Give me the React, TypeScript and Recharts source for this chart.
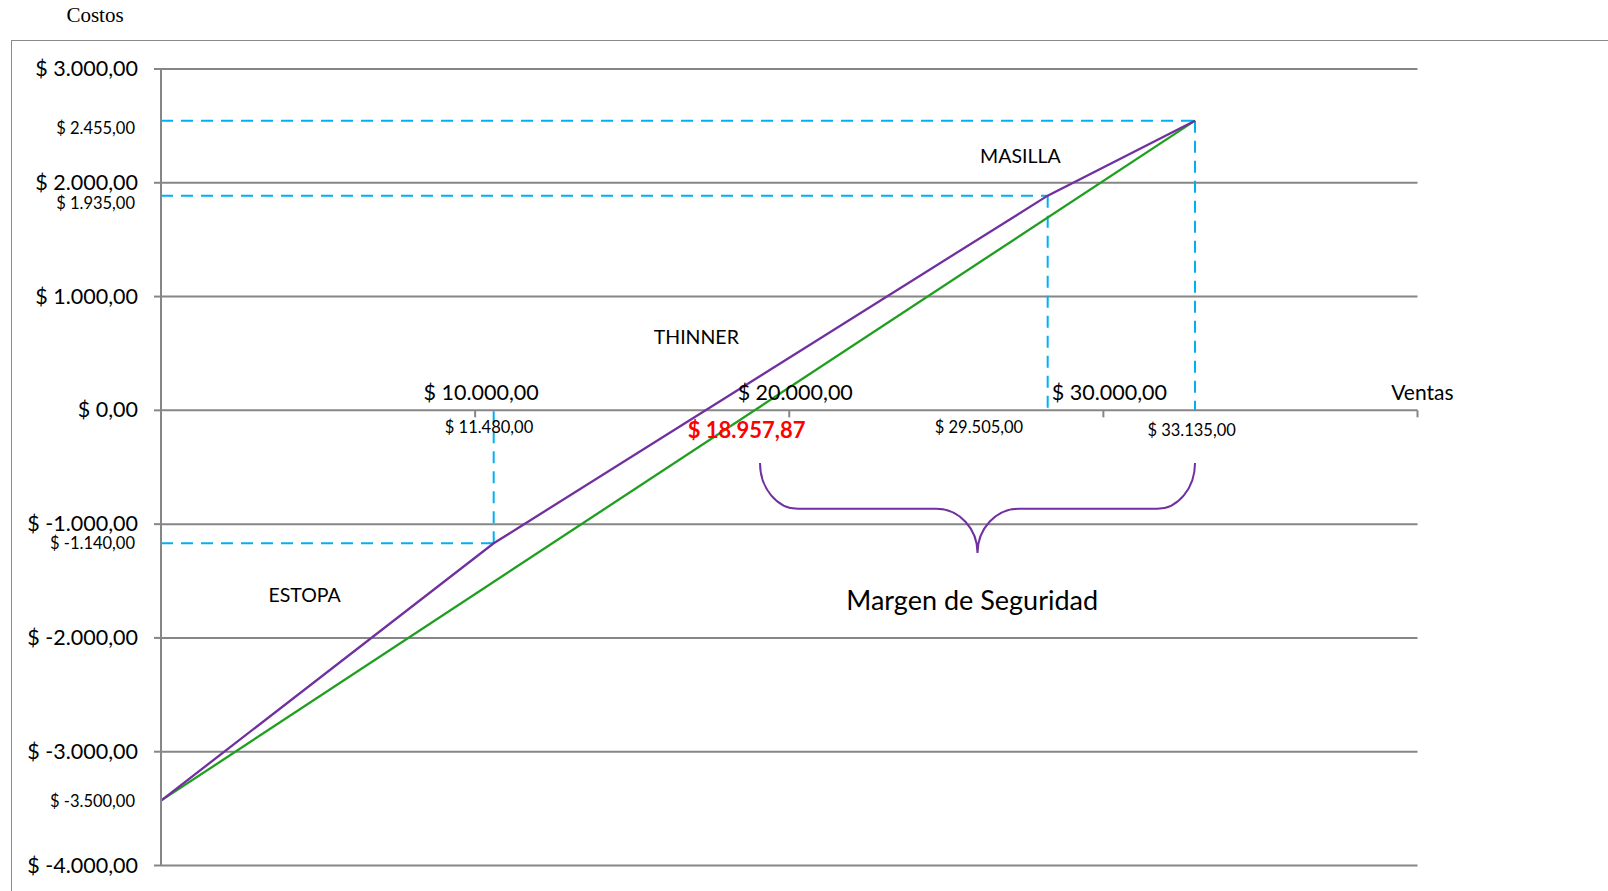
import {
  CartesianGrid,
  ComposedChart,
  Line,
  ReferenceArea,
  ReferenceDot,
  ReferenceLine,
  XAxis,
  YAxis,
} from "recharts";

const FONT = "Lato, 'Open Sans', sans-serif";
const GRID = "#868686";
const GUIDE = "#00B0F0";

// ejes: costos (Y) y ventas (X)
const yMajorTicks = [-4000, -3000, -2000, -1000, 0, 1000, 2000, 3000];
const xMajorTicks = [10000, 20000, 30000, 40000];
const xMajorLabels = ["$ 10.000,00", "$ 20.000,00", "$ 30.000,00", ""];

// costo acumulado por producto (ESTOPA -> THINNER -> MASILLA)
const costSales = [0, 10591, 28227, 32917];
const costValues = [-3430, -1168, 1887, 2546];

// recta de equilibrio
const equilibrioSales = [0, 32917];
const equilibrioValues = [-3430, 2546];

// marcas del eje de costos
const yMarkValues = [2546, 1887, -1168, -3430];
const yMarkLabels = ["$ 2.455,00", "$ 1.935,00", "$ -1.140,00", "$ -3.500,00"];

// textos del gráfico (posición en unidades de datos)
const notes = [
  "$ 11.480,00",
  "$ 18.957,87",
  "$ 29.505,00",
  "$ 33.135,00",
  "ESTOPA",
  "THINNER",
  "MASILLA",
  "Margen de Seguridad",
  "Ventas",
];
const noteX = [10442, 18642, 26040, 32809, 4571, 17041, 27358, 25824, 40156];
const noteY = [-142, -170, -142, -170, -1621, 650, 2237, -1666, 164];
const noteKind = ["mark", "equilibrio", "mark", "mark", "product", "product", "product", "margen", "axis"];

// llave del margen de seguridad
const margenDesde = 19069;
const margenHasta = 32917;
const braceTop = -462;
const braceBottom = -1253;

const noteStyle: Record<string, { size: number; weight: number; color: string }> = {
  mark: { size: 16.5, weight: 400, color: "#000" },
  equilibrio: { size: 22, weight: 700, color: "#FF0000" },
  product: { size: 19.5, weight: 400, color: "#000" },
  margen: { size: 27, weight: 400, color: "#000" },
  axis: { size: 21, weight: 400, color: "#000" },
};

const costData = costSales.map((x, i) => ({ x, y: costValues[i] }));
const equilibrioData = equilibrioSales.map((x, i) => ({ x, y: equilibrioValues[i] }));

function fmt(v: number): string {
  const abs = Math.abs(v)
    .toFixed(0)
    .replace(/\B(?=(\d{3})+(?!\d))/g, ".");
  return `$ ${v < 0 ? "-" : ""}${abs},00`;
}

function YTick(props: any) {
  const { x, y, payload } = props;
  const v = payload.value;
  const i = yMarkValues.indexOf(v);
  if (i >= 0) {
    // las marcas positivas quedan un poco por debajo de su guía
    const dy = v > 0 ? 7 : 0;
    return (
      <text x={x - 3} y={y + dy} textAnchor="end" dominantBaseline="central" fontSize={16.5} fontFamily={FONT} fill="#000">
        {yMarkLabels[i]}
      </text>
    );
  }
  return (
    <g>
      <line x1={x + 16} x2={x + 23} y1={y} y2={y} stroke={GRID} strokeWidth={2} />
      <text x={x} y={y - 1} textAnchor="end" dominantBaseline="central" fontSize={21.5} fontFamily={FONT} fill="#000">
        {fmt(v)}
      </text>
    </g>
  );
}

function Brace(props: any) {
  const { x, y, width: w, height: h } = props;
  const m = h * 0.51;
  const cx = x + w / 2;
  const rx = 38;
  const rx2 = 41;
  const d = [
    `M ${x} ${y}`,
    `C ${x} ${y + m * 0.55} ${x + rx * 0.45} ${y + m} ${x + rx} ${y + m}`,
    `L ${cx - rx2} ${y + m}`,
    `C ${cx - rx2 * 0.45} ${y + m} ${cx} ${y + m + (h - m) * 0.45} ${cx} ${y + h}`,
    `C ${cx} ${y + m + (h - m) * 0.45} ${cx + rx2 * 0.45} ${y + m} ${cx + rx2} ${y + m}`,
    `L ${x + w - rx} ${y + m}`,
    `C ${x + w - rx * 0.45} ${y + m} ${x + w} ${y + m * 0.55} ${x + w} ${y}`,
  ].join(" ");
  return <path d={d} fill="none" stroke="#7030A0" strokeWidth={2} />;
}

export default function App() {
  const yTicks = [...yMajorTicks, ...yMarkValues].sort((a, b) => a - b);
  return (
    <div style={{ position: "relative", width: 1608, height: 891, background: "#fff", overflow: "hidden" }}>
      <style>{`body{margin:0;overflow:hidden}`}</style>
      <div
        style={{
          position: "absolute",
          left: 11,
          top: 40,
          width: 1600,
          height: 860,
          borderLeft: "1px solid #8a8a8a",
          borderTop: "1px solid #8a8a8a",
        }}
      />
      <div
        style={{
          position: "absolute",
          left: 95,
          top: 15,
          transform: "translate(-50%, -50%)",
          fontFamily: "'Liberation Serif', serif",
          fontSize: 21,
          color: "#000",
        }}
      >
        Costos
      </div>
      <div style={{ position: "absolute", left: 0, top: 0 }}>
        <ComposedChart width={1608} height={891} margin={{ top: 69, right: 190.5, bottom: 25.5, left: 11 }}>
          <CartesianGrid horizontalValues={yMajorTicks} vertical={false} stroke={GRID} strokeWidth={2} />
          <XAxis type="number" dataKey="x" domain={[0, 40000]} hide allowDataOverflow />
          <YAxis
            type="number"
            domain={[-4000, 3000]}
            ticks={yTicks}
            interval={0}
            width={150}
            tickSize={0}
            tickMargin={23}
            tickLine={false}
            axisLine={{ stroke: GRID, strokeWidth: 2 }}
            tick={<YTick />}
          />

          {costSales.slice(1).map((s, i) => (
            <ReferenceLine
              key={`h${i}`}
              segment={[
                { x: 0, y: costValues[i + 1] },
                { x: s, y: costValues[i + 1] },
              ]}
              stroke={GUIDE}
              strokeWidth={2}
              strokeDasharray="12 8"
              ifOverflow="visible"
            />
          ))}
          {costSales.slice(1).map((s, i) => (
            <ReferenceLine
              key={`v${i}`}
              segment={[
                { x: s, y: costValues[i + 1] },
                { x: s, y: 0 },
              ]}
              stroke={GUIDE}
              strokeWidth={2}
              strokeDasharray="12 8"
              ifOverflow="visible"
            />
          ))}

          {xMajorTicks.map((v, i) => (
            <ReferenceDot
              key={`xt${v}`}
              x={v}
              y={0}
              r={1}
              ifOverflow="visible"
              shape={(p: any) => (
                <g>
                  <line x1={p.cx} x2={p.cx} y1={p.cy} y2={p.cy + 7} stroke={GRID} strokeWidth={2} />
                  {xMajorLabels[i] && (
                    <text
                      x={p.cx + 6}
                      y={p.cy - 18}
                      textAnchor="middle"
                      dominantBaseline="central"
                      fontSize={21.5}
                      fontFamily={FONT}
                      fill="#000"
                    >
                      {xMajorLabels[i]}
                    </text>
                  )}
                </g>
              )}
            />
          ))}

          <ReferenceArea
            x1={margenDesde}
            x2={margenHasta}
            y1={braceBottom}
            y2={braceTop}
            ifOverflow="visible"
            shape={<Brace />}
          />

          <Line
            data={equilibrioData}
            dataKey="y"
            type="linear"
            stroke="#1F9E1F"
            strokeWidth={2.3}
            dot={false}
            activeDot={false}
            isAnimationActive={false}
          />
          <Line
            data={costData}
            dataKey="y"
            type="linear"
            stroke="#7030A0"
            strokeWidth={2.3}
            dot={false}
            activeDot={false}
            isAnimationActive={false}
          />

          {notes.map((t, i) => {
            const st = noteStyle[noteKind[i]];
            return (
              <ReferenceDot
                key={`n${i}`}
                x={noteX[i]}
                y={noteY[i]}
                r={1}
                ifOverflow="visible"
                shape={(p: any) => (
                  <text
                    x={p.cx}
                    y={p.cy}
                    textAnchor="middle"
                    dominantBaseline="central"
                    fontSize={st.size}
                    fontWeight={st.weight}
                    fontFamily={FONT}
                    fill={st.color}
                  >
                    {t}
                  </text>
                )}
              />
            );
          })}
        </ComposedChart>
      </div>
    </div>
  );
}
